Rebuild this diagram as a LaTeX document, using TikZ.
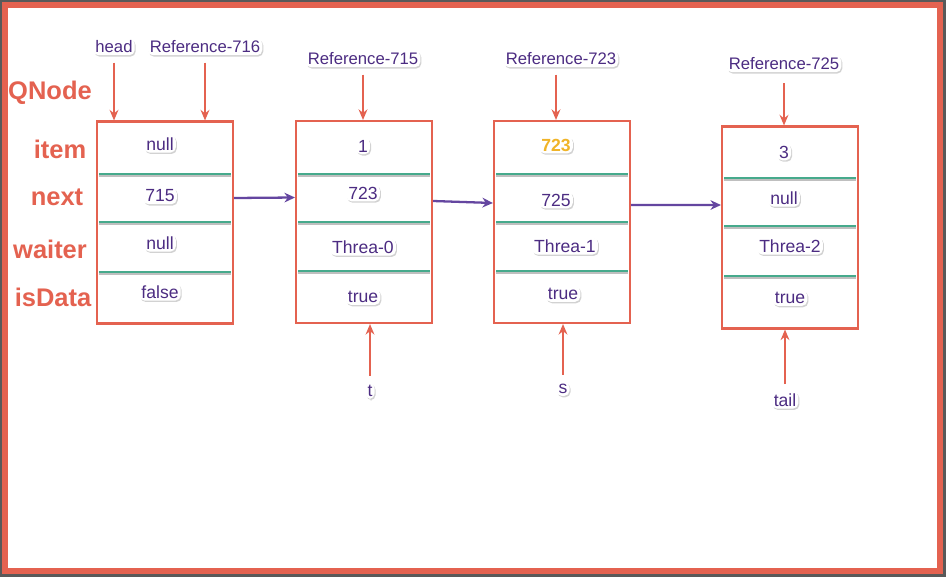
\documentclass[tikz,border=0pt]{standalone}
\usepackage{fontspec}
\setmainfont{Liberation Sans}
\usetikzlibrary{arrows.meta}
\usetikzlibrary{shadows}
\definecolor{qred}{RGB}{228,98,80}
\definecolor{qpurple}{RGB}{76,44,130}
\definecolor{qarrow}{RGB}{100,70,160}
\definecolor{qteal}{RGB}{70,170,140}
\definecolor{qorange}{RGB}{240,180,40}

\begin{document}
\begin{tikzpicture}[x=0.02cm, y=-0.02cm, ->, >=Stealth,
    qbox/.style = {draw=qred, line width=1.2pt, minimum width=2.72cm, minimum height=4.04cm, inner sep=0pt},
    val/.style = {text=qpurple, font=\fontsize{10}{12}\selectfont, fill=white, rounded corners=3pt, inner sep=1.2pt,
                  drop shadow={shadow xshift=0.6pt, shadow yshift=-0.8pt, opacity=0.35}},
    fname/.style = {text=qred, font=\fontsize{14.5}{16}\bfseries, inner sep=1pt},
    redarrow/.style = {draw=qred, line width=1pt, -{Stealth[length=6pt,width=5pt]}},
    purparrow/.style = {draw=qarrow, line width=1.3pt, -{Stealth[length=6pt,width=5.5pt]}},
    sep/.style = {-, draw=qteal, line width=1pt}]
    % Frame
    \fill[gray!70!black, -] (0,0) rectangle (946,577);
    \draw[qred, line width=3pt, fill=white, -] (5,5) rectangle (940,571);

    % Field names
    \node[fname] (qn) at (50,93) {QNode};
    \node[fname] (fi) at (60,149) {item};
    \node[fname] (fn) at (57,197) {next};
    \node[fname] (fw) at (50,249) {waiter};
    \node[fname] (fd) at (53,297) {isData};

    % Boxes
    \node[qbox] (b1) at (165,222.5) {};
    \node[qbox] (b2) at (364,222) {};
    \node[qbox] (b3) at (562,222) {};
    \node[qbox] (b4) at (790,227.5) {};

    % Separators
    \foreach \x/\ya/\yb/\yc in {165/174/222/272, 364/174/222/271, 562/174/222/271, 790/178/226/276} {
      \foreach \y in {\ya,\yb,\yc} {
        \draw[sep] (\x-66,\y) -- (\x+66,\y);
        \draw[-, gray!50, line width=0.6pt] (\x-66,\y+2) -- (\x+66,\y+2);
      }
    }

    % Values
    \node[val] (v11) at (160,144) {null};
    \node[val] (v12) at (160,196) {715};
    \node[val] (v13) at (160,243) {null};
    \node[val] (v14) at (160,292) {false};

    \node[val] (v21) at (363,146) {1};
    \node[val] (v22) at (363,193) {723};
    \node[val] (v23) at (363,247) {Threa-0};
    \node[val] (v24) at (363,297) {true};

    \node[val, text=qorange, font=\fontsize{10}{12}\bfseries] (v31) at (556,145) {723};
    \node[val] (v32) at (556,200) {725};
    \node[val] (v33) at (565,246) {Threa-1};
    \node[val] (v34) at (563,294) {true};

    \node[val] (v41) at (784,152) {3};
    \node[val] (v42) at (784,198) {null};
    \node[val] (v43) at (790,246) {Threa-2};
    \node[val] (v44) at (790,298) {true};

    % References
    \node[val, font=\fontsize{9.5}{11}\selectfont] (head) at (114,47) {head};
    \node[val, font=\fontsize{9.5}{11}\selectfont] (r716) at (205,47) {Reference-716};
    \node[val, font=\fontsize{9.5}{11}\selectfont] (r715) at (363,59) {Reference-715};
    \node[val, font=\fontsize{9.5}{11}\selectfont] (r723) at (561,59) {Reference-723};
    \node[val, font=\fontsize{9.5}{11}\selectfont] (r725) at (784,64) {Reference-725};
    \node[val] (t) at (370,391) {t};
    \node[val] (s) at (563,389) {s};
    \node[val] (tail) at (785,400) {tail};

    % Edges
    \draw[redarrow] ([yshift=-4pt]head.south) -- (head.south |- b1.north);
    \draw[redarrow] ([yshift=-4pt]r716.south) -- (r716.south |- b1.north);
    \draw[redarrow] ([yshift=-4pt]r715.south) -- (r715.south |- b2.north);
    \draw[redarrow] ([yshift=-4pt]r723.south -| 556,0) -- (556,0 |- b3.north);
    \draw[redarrow] ([yshift=-6pt]r725.south) -- (r725.south |- b4.north);
    \draw[redarrow] ([yshift=4pt]t.north) -- (t.north |- b2.south);
    \draw[redarrow] ([yshift=4pt]s.north) -- (s.north |- b3.south);
    \draw[redarrow] ([yshift=4pt]tail.north) -- (tail.north |- b4.south);

    \draw[purparrow] ([yshift=0.49cm]b1.east) -- ([yshift=0.49cm]b2.west);
    \draw[purparrow] ([yshift=0.42cm]b2.east) -- ([yshift=0.38cm]b3.west);
    \draw[purparrow] ([yshift=0.34cm]b3.east) -- ([yshift=0.45cm]b4.west);
\end{tikzpicture}
\end{document}
